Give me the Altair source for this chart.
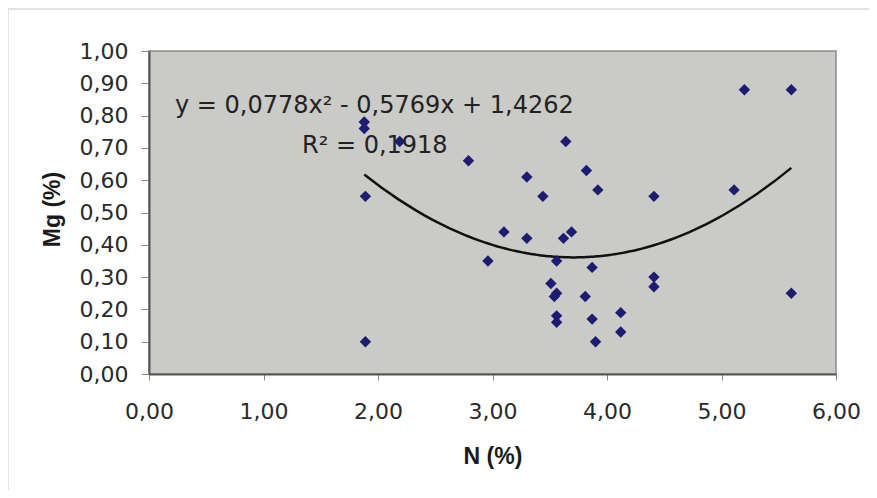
import altair as alt
import pandas as pd

# Data
n_pct = [1.88, 1.88, 2.19, 2.79, 3.30, 1.89, 3.10, 3.30, 2.96, 1.89,
         3.64, 3.82, 3.44, 3.92, 4.41, 3.62, 3.69, 3.56, 3.87, 3.51,
         3.56, 3.54, 3.81, 4.41, 4.41, 3.56, 3.56, 3.87, 4.12, 4.12,
         3.90, 5.20, 5.61, 5.11, 5.61]
mg_pct = [0.78, 0.76, 0.72, 0.66, 0.61, 0.55, 0.44, 0.42, 0.35, 0.10,
          0.72, 0.63, 0.55, 0.57, 0.55, 0.42, 0.44, 0.35, 0.33, 0.28,
          0.25, 0.24, 0.24, 0.30, 0.27, 0.18, 0.16, 0.17, 0.19, 0.13,
          0.10, 0.88, 0.88, 0.57, 0.25]
x_ticks = [0, 1, 2, 3, 4, 5, 6]
y_ticks = [0.0, 0.1, 0.2, 0.3, 0.4, 0.5, 0.6, 0.7, 0.8, 0.9, 1.0]
equation_text = "y = 0,0778x² - 0,5769x + 1,4262"
r2_text = "R² = 0,1918"

df = pd.DataFrame({"N": n_pct, "Mg": mg_pct})

LABEL_FONT = "DejaVu Sans"
TITLE_FONT = "Liberation Sans"
comma_fmt = "replace(format(datum.value, '.2f'), '.', ',')"

x_enc = alt.X("N:Q", scale=alt.Scale(domain=[0, 6], nice=False),
              axis=alt.Axis(values=x_ticks, title="N (%)", labelExpr=comma_fmt,
                            tickSize=6, labelPadding=21, grid=False,
                            labelOverlap=False, labelFlush=False,
                            titleY=89, titleBaseline="alphabetic"))
y_enc = alt.Y("Mg:Q", scale=alt.Scale(domain=[0, 1], nice=False),
              axis=alt.Axis(values=y_ticks, title="Mg (%)", labelExpr=comma_fmt,
                            tickSize=8, labelPadding=13, grid=False,
                            labelOverlap=False, labelFlush=False,
                            titleX=-90, titleY=158, titleBaseline="alphabetic"))

base = alt.Chart(df)

frame = alt.Chart(pd.DataFrame({"a": [0]})).mark_rect(
    filled=False, stroke="#d9d9d9", strokeWidth=1.5, clip=False
).encode(x=alt.value(-141), x2=alt.value(735), y=alt.value(-42), y2=alt.value(452))

points = base.mark_point(shape="diamond", filled=True, size=130,
                         color="#1c1c72", opacity=1).encode(x=x_enc, y=y_enc)

trend = base.transform_regression(
    "N", "Mg", method="poly", order=2
).mark_line(color="#111111", strokeWidth=2.5).encode(x=x_enc, y=y_enc)

eq = alt.Chart(pd.DataFrame({"t": [equation_text]})).mark_text(
    align="left", baseline="alphabetic", font=LABEL_FONT, fontSize=24, color="#222222"
).encode(x=alt.value(26), y=alt.value(62), text="t:N")

r2 = alt.Chart(pd.DataFrame({"t": [r2_text]})).mark_text(
    align="left", baseline="alphabetic", font=LABEL_FONT, fontSize=24, color="#222222"
).encode(x=alt.value(153), y=alt.value(102), text="t:N")

chart = alt.layer(frame, trend, points, eq, r2).properties(
    width=687, height=323,
    autosize=alt.AutoSizeParams(type="none"),
    padding={"left": 141, "top": 43, "right": 33, "bottom": 116},
    background="white",
).configure_view(
    fill="#cacac6", stroke="#8a8a8a", strokeWidth=1.5
).configure_axis(
    labelFont=LABEL_FONT, labelFontSize=22, labelColor="#2a2a2a",
    titleFont=TITLE_FONT, titleFontSize=23, titleFontWeight="bold", titleColor="#1a1a1a",
    domainColor="#555555", domainWidth=2, tickColor="#888888", tickWidth=1,
)

chart.save("out.html", embed_options={"renderer": "svg", "actions": False})
